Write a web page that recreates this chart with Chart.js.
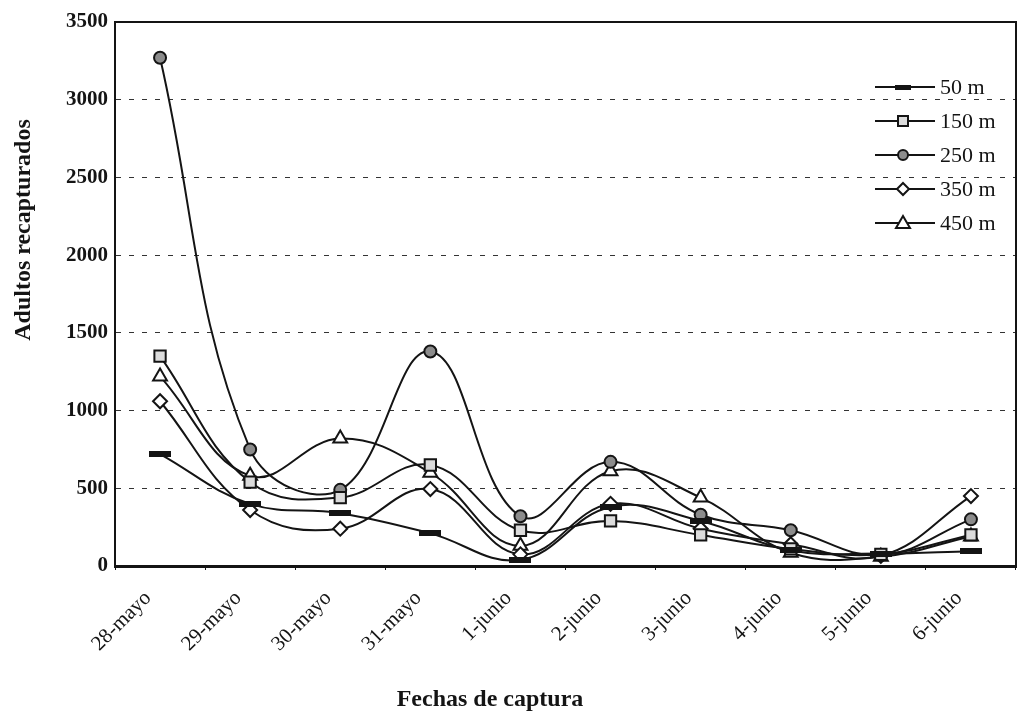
<!DOCTYPE html>
<html>
<head>
<meta charset="utf-8">
<script src="https://cdn.jsdelivr.net/npm/chart.js@4.4.1/dist/chart.umd.min.js"></script>
<style>
  html, body { margin: 0; padding: 0; background: #fff; }
  #wrap { width: 1026px; height: 725px; }
</style>
</head>
<body>
<div id="wrap"><canvas id="chart"></canvas></div>
<script>
// fechas de captura y adultos recapturados por distancia
const fechas = ["28-mayo", "29-mayo", "30-mayo", "31-mayo", "1-junio",
  "2-junio", "3-junio", "4-junio", "5-junio", "6-junio"];
const distancias = ["50 m", "150 m", "250 m", "350 m", "450 m"];
const m50 = [720, 400, 340, 210, 40, 380, 290, 100, 80, 95];
const m150 = [1350, 540, 440, 650, 230, 290, 200, 110, 75, 200];
const m250 = [3270, 750, 490, 1380, 320, 670, 330, 230, 70, 300];
const m350 = [1060, 360, 240, 495, 75, 400, 240, 140, 65, 450];
const m450 = [1220, 580, 820, 600, 130, 610, 440, 85, 60, 190];
const yTicks = [0, 500, 1000, 1500, 2000, 2500, 3000, 3500];

const INK = "#141414";
const SERIF = '"Liberation Serif", "DejaVu Serif", serif';

// barra negra para la serie de 50 m
function barMarker(w, h) {
  const c = document.createElement("canvas");
  c.width = w; c.height = h;
  const g = c.getContext("2d");
  g.fillStyle = INK;
  g.fillRect(0, 0, w, h);
  return c;
}
const bar = barMarker(22, 6);
const barSmall = barMarker(16, 5);

const markers = [
  { pointStyle: bar, radius: 8, fill: INK },
  { pointStyle: "rect", radius: 8, fill: "#dcdcdc" },
  { pointStyle: "circle", radius: 6, fill: "#8c8c8c" },
  { pointStyle: "rectRot", radius: 7, fill: "#ffffff" },
  { pointStyle: "triangle", radius: 8, fill: "#ffffff" },
];

const series = [m50, m150, m250, m350, m450];

const datasets = series.map((data, i) => ({
  label: distancias[i],
  data: data,
  borderColor: INK,
  borderWidth: 2,
  tension: 0.4,
  fill: false,
  pointStyle: markers[i].pointStyle,
  pointRadius: markers[i].radius,
  pointBackgroundColor: markers[i].fill,
  pointBorderColor: INK,
  pointBorderWidth: 2,
}));

function drawLegendMarker(ctx, i, x, y) {
  ctx.save();
  ctx.fillStyle = markers[i].fill;
  ctx.strokeStyle = INK;
  ctx.lineWidth = 2;
  ctx.beginPath();
  if (i === 0) {
    ctx.drawImage(barSmall, x - 8, y - 2.5);
  } else if (i === 1) {
    ctx.rect(x - 5, y - 5, 10, 10);
  } else if (i === 2) {
    ctx.arc(x, y, 5, 0, Math.PI * 2);
  } else if (i === 3) {
    ctx.moveTo(x, y - 6); ctx.lineTo(x + 6, y); ctx.lineTo(x, y + 6); ctx.lineTo(x - 6, y);
    ctx.closePath();
  } else {
    ctx.moveTo(x, y - 7); ctx.lineTo(x + 7, y + 5); ctx.lineTo(x - 7, y + 5);
    ctx.closePath();
  }
  if (i > 0) { ctx.fill(); ctx.stroke(); }
  ctx.restore();
}

const extras = {
  id: "extras",
  afterDraw(chart) {
    const { ctx, chartArea: a } = chart;
    ctx.save();
    // marco superior y derecho del área de trazado
    ctx.strokeStyle = INK;
    ctx.lineWidth = 2;
    ctx.beginPath();
    ctx.moveTo(a.left, a.top);
    ctx.lineTo(a.right, a.top);
    ctx.lineTo(a.right, a.bottom);
    ctx.stroke();

    // títulos de ejes
    ctx.fillStyle = INK;
    ctx.textAlign = "center";
    ctx.textBaseline = "middle";
    ctx.font = "bold 24px " + SERIF;
    ctx.fillText("Fechas de captura", 490, 700);
    ctx.save();
    ctx.translate(24, 230);
    ctx.rotate(-Math.PI / 2);
    ctx.fillText("Adultos recapturados", 0, 0);
    ctx.restore();

    // leyenda
    ctx.font = "22px " + SERIF;
    ctx.textAlign = "left";
    chart.data.datasets.forEach((ds, i) => {
      const y = 87 + i * 34;
      ctx.strokeStyle = INK;
      ctx.lineWidth = 2;
      ctx.beginPath();
      ctx.moveTo(875, y);
      ctx.lineTo(935, y);
      ctx.stroke();
      drawLegendMarker(ctx, i, 903, y);
      ctx.fillStyle = INK;
      ctx.fillText(ds.label, 940, y + 1);
    });
    ctx.restore();
  },
};

new Chart(document.getElementById("chart"), {
  type: "line",
  data: { labels: fechas, datasets: datasets },
  plugins: [extras],
  options: {
    responsive: true,
    maintainAspectRatio: false,
    animation: false,
    layout: { padding: { left: 0, top: 22, right: 6, bottom: 0 } },
    plugins: {
      legend: { display: false },
      tooltip: { enabled: false },
    },
    scales: {
      x: {
        offset: true,
        grid: { display: true, drawOnChartArea: false, offset: true, color: INK, tickLength: 4 },
        border: { color: INK, width: 3 },
        ticks: {
          color: INK,
          font: { family: SERIF, size: 21 },
          minRotation: 45,
          maxRotation: 45,
          autoSkip: false,
          padding: 16,
          labelOffset: -12,
        },
        afterFit(scale) { scale.height = 159; },
      },
      y: {
        min: 0,
        max: 3500,
        afterBuildTicks(scale) { scale.ticks = yTicks.map(v => ({ value: v })); },
        grid: {
          color: ctx => (ctx.tick && (ctx.tick.value === 0 || ctx.tick.value === 3500)) ? "rgba(0,0,0,0)" : "#333",
          lineWidth: 1,
          drawTicks: false,
        },
        border: { color: INK, width: 2, dash: [5, 8] },
        ticks: {
          color: INK,
          font: { family: SERIF, size: 21, weight: "bold" },
          padding: 7,
          callback: v => String(v),
        },
        afterFit(scale) { scale.width = 115; },
      },
    },
  },
});
</script>
</body>
</html>
